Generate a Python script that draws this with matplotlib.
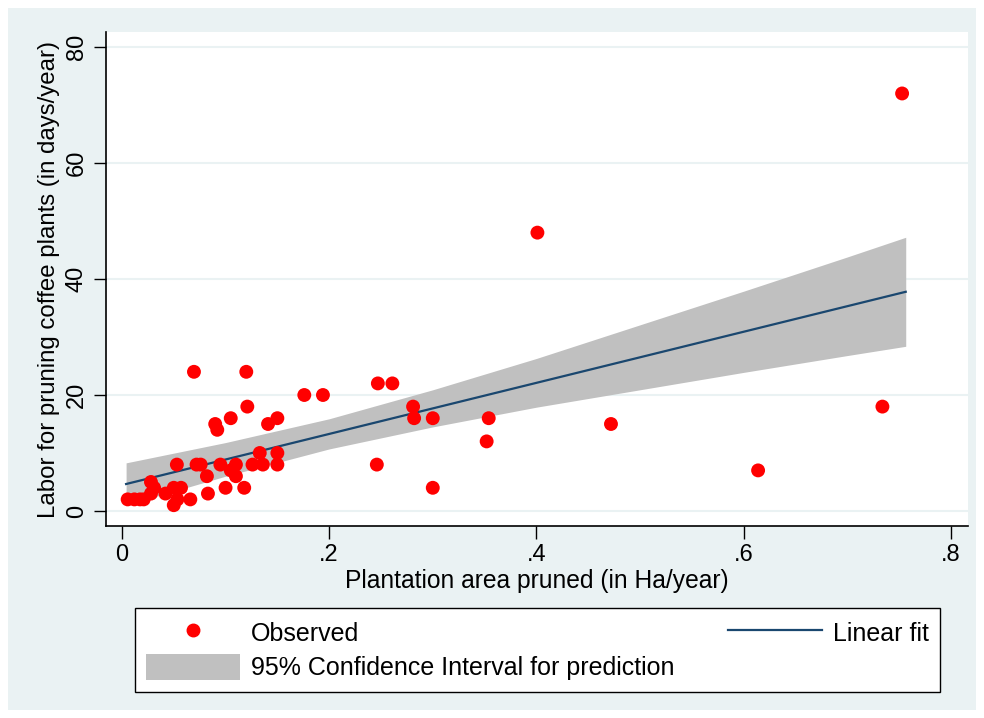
import numpy as np
import matplotlib
matplotlib.use("Agg")
import matplotlib.pyplot as plt
from matplotlib.patches import Rectangle, Patch
from matplotlib.lines import Line2D

plt.rcParams['font.family'] = ['Liberation Sans', 'DejaVu Sans']

# observed points (area pruned in Ha/year, labor in days/year)
area = [0.0055, 0.012, 0.0175, 0.021, 0.028, 0.028, 0.031, 0.042, 0.050, 0.050,
        0.0535, 0.057, 0.053, 0.066, 0.0695, 0.072, 0.076, 0.082, 0.083, 0.090,
        0.092, 0.095, 0.100, 0.105, 0.105, 0.110, 0.110, 0.118, 0.120, 0.121,
        0.126, 0.133, 0.136, 0.141, 0.150, 0.150, 0.150, 0.176, 0.194, 0.246,
        0.247, 0.261, 0.281, 0.282, 0.300, 0.300, 0.352, 0.354, 0.401, 0.472,
        0.614, 0.734, 0.753]
labor = [2, 2, 2, 2, 5, 3, 4, 3, 4, 1,
         2, 4, 8, 2, 24, 8, 8, 6, 3, 15,
         14, 8, 4, 16, 7, 8, 6, 4, 24, 18,
         8, 10, 8, 15, 16, 10, 8, 20, 20, 8,
         22, 22, 18, 16, 16, 4, 12, 16, 48, 15,
         7, 18, 72]

# fitted line and confidence band
fit_x = [0.004, 0.7565]
fit_y = [4.65, 37.8]
band_x = [0.004, 0.1, 0.2, 0.3, 0.4, 0.5, 0.6, 0.7, 0.7565]
band_lo = [1.0, 6.0, 10.7, 14.5, 17.9, 20.9, 23.9, 26.8, 28.4]
band_hi = [8.3, 11.8, 15.9, 20.9, 26.3, 32.1, 37.9, 43.8, 47.2]

x_ticks = [0, 0.2, 0.4, 0.6, 0.8]
x_labels = ["0", ".2", ".4", ".6", ".8"]
y_ticks = [0, 20, 40, 60, 80]

bg = "#EAF2F3"
fig = plt.figure(figsize=(9.84, 7.18), dpi=100, facecolor="white")
fig.patches.append(Rectangle((8 / 984, 8 / 718), 968 / 984, 702 / 718,
                             transform=fig.transFigure, facecolor=bg,
                             edgecolor="none", zorder=-10))

ax = fig.add_axes([106 / 984, 1 - 526 / 718, 862 / 984, 494 / 718])
ax.set_facecolor("white")

ax.fill_between(band_x, band_lo, band_hi, color="#C0C0C0", lw=0, zorder=2)
ax.plot(fit_x, fit_y, color="#1A476F", lw=1.6, zorder=3)
ax.scatter(area, labor, s=100, color="#FF0000", edgecolor="none", zorder=4)

ax.set_xlim(-0.0154, 0.8166)
ax.set_ylim(-2.59, 82.6)
ax.set_xticks(x_ticks)
ax.set_xticklabels(x_labels)
ax.set_yticks(y_ticks)
ax.set_yticklabels([str(v) for v in y_ticks], rotation=90, va="center")
ax.tick_params(axis="both", direction="out", length=9, width=1,
               labelsize=17, color="black", pad=4)

ax.grid(axis="y", color=bg, lw=1.5, zorder=1)
ax.set_axisbelow(True)
for side in ["top", "right"]:
    ax.spines[side].set_visible(False)
for side in ["left", "bottom"]:
    ax.spines[side].set_linewidth(1.2)

ax.set_xlabel("Plantation area pruned (in Ha/year)", fontsize=17.7, labelpad=2)
ax.set_ylabel("Labor for pruning coffee plants (in days/year)", fontsize=17.3,
              labelpad=4)

handles = [Line2D([], [], marker="o", ls="none", color="#FF0000", ms=9),
           Patch(facecolor="#C0C0C0", edgecolor="none"),
           Line2D([], [], color="#1A476F", lw=1.6)]
labels = ["Observed", "95% Confidence Interval for prediction", "Linear fit"]
leg = fig.legend(handles, labels, ncol=2, mode="expand", loc="upper left",
                 bbox_to_anchor=(135 / 984, 1 - 608 / 718, 805 / 984, 0.0),
                 borderaxespad=0, fontsize=18, handlelength=3.75,
                 handleheight=1.25, handletextpad=0.45, labelspacing=0.32,
                 borderpad=0.45, fancybox=False, framealpha=1,
                 edgecolor="black")
leg.get_frame().set_linewidth(1.0)

fig.savefig("out.png", dpi=100, facecolor="white")
